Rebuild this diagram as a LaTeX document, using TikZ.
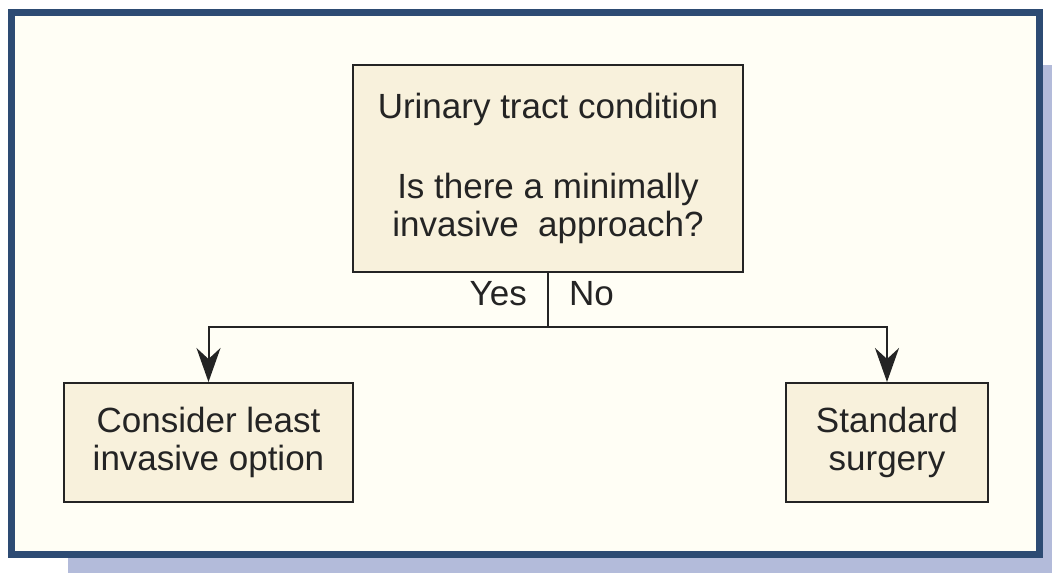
\documentclass[tikz,border=0pt]{standalone}
\usepackage{fontspec}
\setmainfont{Liberation Sans}
\usetikzlibrary{arrows.meta}
\definecolor{framecol}{HTML}{2D4B73}
\definecolor{shadowcol}{HTML}{B3BBDA}
\definecolor{panelcol}{HTML}{FFFEF5}
\definecolor{boxcol}{HTML}{F8F1DC}
\definecolor{inkcol}{HTML}{242424}
\tikzset{
  flowbox/.style={draw=inkcol, line width=2pt, fill=boxcol, align=center,
    text=inkcol, font=\fontsize{35}{38}\selectfont, inner sep=0pt},
  flowline/.style={draw=inkcol, line width=2pt},
  flowarrow/.style={flowline, -{Stealth[length=34pt, width=24pt, inset=11pt]}},
  branchlabel/.style={text=inkcol, font=\fontsize{35}{38}\selectfont, inner sep=0pt}
}
\begin{document}
\begin{tikzpicture}[x=1pt, y=-1pt]
  \useasboundingbox (0,0) rectangle (1052,573);
  % drop shadow and framed panel
  \fill[shadowcol] (68,65) rectangle (1052,573);
  \draw[framecol, line width=7pt, fill=panelcol] (11.5,12.5) rectangle (1039.5,554.5);

  % boxes
  \node[flowbox, minimum width=390pt, minimum height=207pt] (top) at (548,168.5)
    {Urinary tract condition\\[42pt]Is there a minimally\\invasive\ \ approach?};
  \node[flowbox, minimum width=289pt, minimum height=119pt] (left) at (208.5,442.5)
    {Consider least\\invasive option};
  \node[flowbox, minimum width=202pt, minimum height=119pt] (right) at (887,442.5)
    {Standard\\surgery};

  % branching connectors
  \coordinate (split) at (548,327);
  \draw[flowline] (top.south) -- (split);
  \draw[flowarrow] (split) -| (left.north);
  \draw[flowarrow] (split) -| (right.north);

  % branch labels
  \node[branchlabel, anchor=base east] (yes) at (527,305) {Yes};
  \node[branchlabel, anchor=base west] (no) at (569,305) {No};
\end{tikzpicture}
\end{document}
